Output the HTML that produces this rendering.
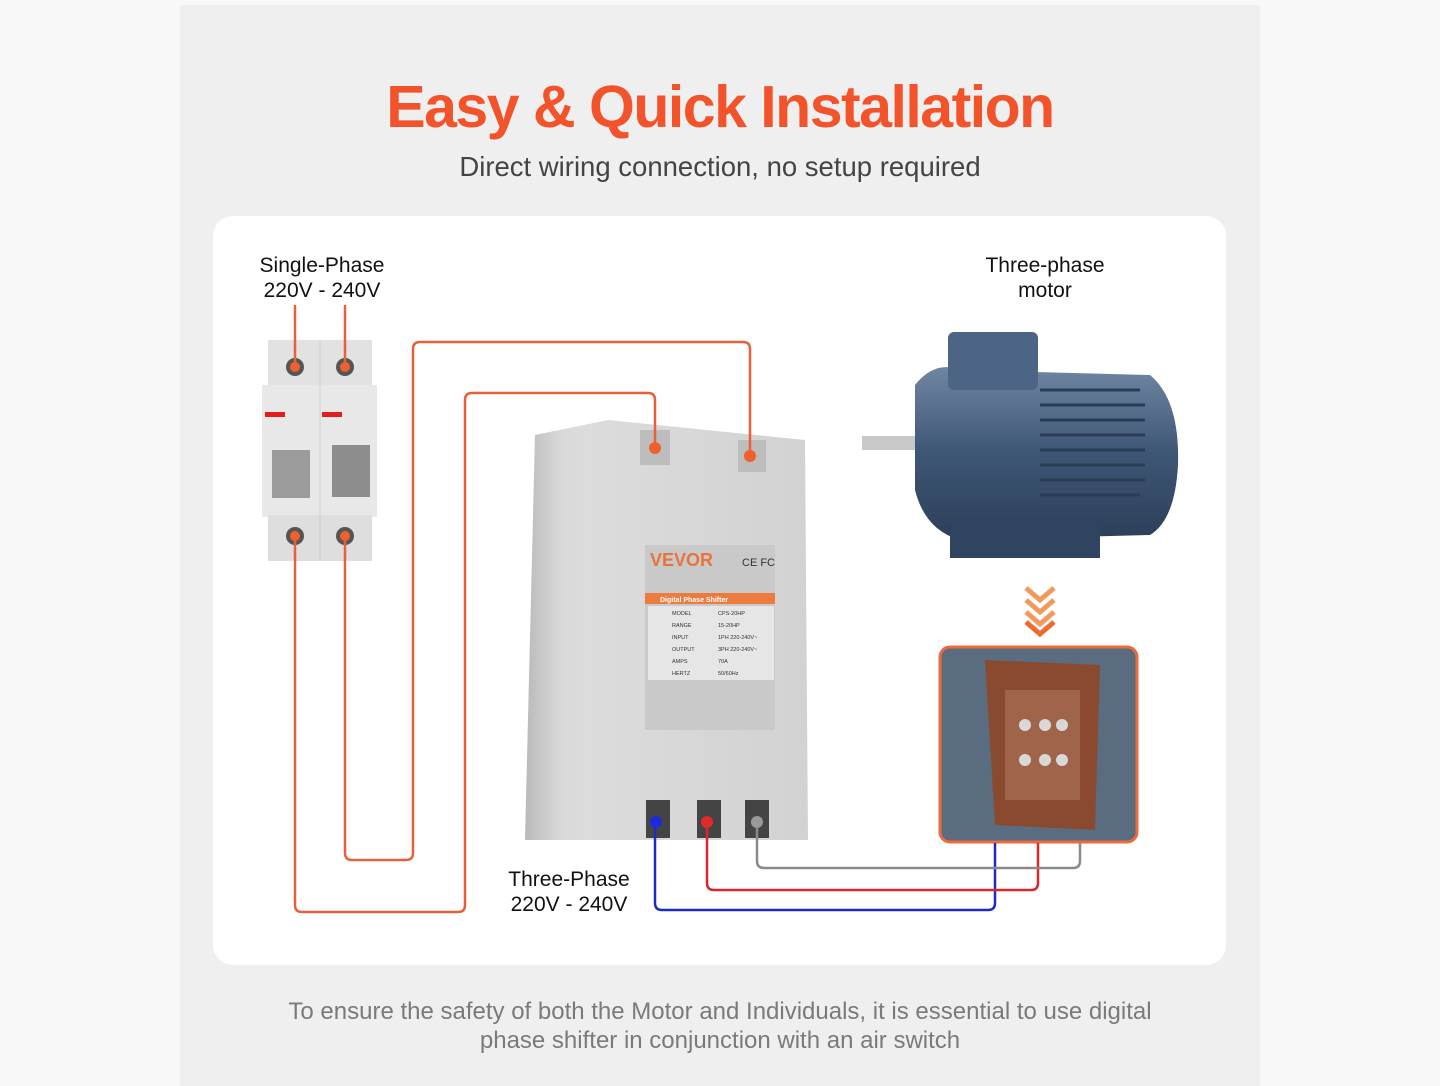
<!DOCTYPE html>
<html><head><meta charset="utf-8"><style>
html,body{margin:0;padding:0;width:1440px;height:1086px;overflow:hidden;background:#fafafa;font-family:"Liberation Sans",sans-serif}
</style></head><body>
<svg width="1440" height="1086" viewBox="0 0 1440 1086" xmlns="http://www.w3.org/2000/svg" font-family="Liberation Sans, sans-serif">
<defs>
<linearGradient id="box" x1="0" x2="1"><stop offset="0" stop-color="#b9b9b9"/><stop offset="0.12" stop-color="#d8d8d8"/><stop offset="0.2" stop-color="#dcdcdc"/><stop offset="1" stop-color="#d2d2d2"/></linearGradient>
<linearGradient id="mot" x1="0" y1="0" x2="0" y2="1"><stop offset="0" stop-color="#6f86a3"/><stop offset="0.5" stop-color="#3e5675"/><stop offset="1" stop-color="#2c3f58"/></linearGradient>
</defs>
<rect width="1440" height="1086" fill="#f8f8f8"/>
<rect x="180" y="5" width="1080" height="1081" fill="#efefef"/>
<text x="720" y="127" text-anchor="middle" font-size="59" font-weight="bold" fill="#f2532a" letter-spacing="-1.5">Easy &amp; Quick Installation</text>
<text x="720" y="176" text-anchor="middle" font-size="27.5" fill="#444">Direct wiring connection, no setup required</text>
<rect x="213" y="216" width="1013" height="749" rx="20" fill="#fff"/>
<text x="322" y="272" text-anchor="middle" font-size="21" fill="#111">Single-Phase</text>
<text x="322" y="297" text-anchor="middle" font-size="21" fill="#111">220V - 240V</text>
<text x="1045" y="272" text-anchor="middle" font-size="21" fill="#111">Three-phase</text>
<text x="1045" y="297" text-anchor="middle" font-size="21" fill="#111">motor</text>
<text x="569" y="886" text-anchor="middle" font-size="21" fill="#111">Three-Phase</text>
<text x="569" y="911" text-anchor="middle" font-size="21" fill="#111">220V - 240V</text>
<rect x="268" y="340" width="104" height="48" fill="#e2e2e2"/>
<rect x="262" y="385" width="115" height="132" fill="#e8e8e8"/>
<rect x="268" y="515" width="104" height="46" fill="#dedede"/>
<line x1="320" y1="340" x2="320" y2="561" stroke="#cfcfcf"/>
<rect x="265" y="412" width="20" height="5" fill="#e02020"/><rect x="322" y="412" width="20" height="5" fill="#e02020"/>
<rect x="272" y="450" width="38" height="48" fill="#9b9b9b"/><rect x="332" y="445" width="38" height="52" fill="#8d8d8d"/>
<circle cx="295" cy="367" r="9" fill="#555"/><circle cx="345" cy="367" r="9" fill="#555"/>
<circle cx="295" cy="536" r="9" fill="#555"/><circle cx="345" cy="536" r="9" fill="#555"/>
<path d="M535 435 L608 420 L805 440 L808 840 L525 840 Z" fill="url(#box)"/>
<rect x="640" y="430" width="30" height="35" fill="#bdbdbd"/><rect x="738" y="440" width="28" height="32" fill="#bdbdbd"/>
<rect x="645" y="545" width="130" height="185" fill="#c9c9c9"/>
<text x="650" y="566" font-size="18" font-weight="bold" fill="#e7743f">VEVOR</text>
<text x="742" y="566" font-size="11" fill="#333">CE FC</text>
<rect x="645" y="593" width="130" height="11" fill="#ee7b3e"/>
<text x="660" y="602" font-size="7" fill="#fff" font-weight="bold">Digital Phase Shifter</text>
<rect x="648" y="606" width="126" height="74" fill="#e6e6e6"/>
<g font-size="5.5" fill="#333"><text x="672" y="615">MODEL</text><text x="718" y="615">CPS-20HP</text><text x="672" y="627">RANGE</text><text x="718" y="627">15-20HP</text><text x="672" y="639">INPUT</text><text x="718" y="639">1PH 220-240V~</text><text x="672" y="651">OUTPUT</text><text x="718" y="651">3PH 220-240V~</text><text x="672" y="663">AMPS</text><text x="718" y="663">70A</text><text x="672" y="675">HERTZ</text><text x="718" y="675">50/60Hz</text></g>
<rect x="646" y="800" width="24" height="38" fill="#444"/><rect x="697" y="800" width="24" height="38" fill="#444"/><rect x="745" y="800" width="24" height="38" fill="#444"/>
<rect x="862" y="436" width="56" height="14" fill="#c8c8c8"/>
<path d="M915 385 Q935 360 960 370 L1150 375 Q1180 400 1178 465 Q1175 520 1150 535 L960 540 Q925 530 915 490 Z" fill="url(#mot)"/>
<rect x="948" y="332" width="90" height="58" rx="6" fill="#4d6584"/>
<rect x="950" y="520" width="150" height="38" fill="#2f4460"/>
<g stroke="#2a3d55" stroke-width="3">
<line x1="1040" y1="390" x2="1140" y2="390"/><line x1="1040" y1="405" x2="1145" y2="405"/><line x1="1040" y1="420" x2="1145" y2="420"/><line x1="1040" y1="435" x2="1145" y2="435"/><line x1="1040" y1="450" x2="1145" y2="450"/><line x1="1040" y1="465" x2="1145" y2="465"/><line x1="1040" y1="480" x2="1145" y2="480"/><line x1="1040" y1="495" x2="1140" y2="495"/></g>
<g fill="none" stroke="#f29a5e" stroke-width="5"><path d="M1026 588 L1040 600 L1054 588"/><path d="M1026 600 L1040 612 L1054 600"/><path d="M1026 612 L1040 624 L1054 612"/><path d="M1026 622 L1040 634 L1054 622" stroke="#ee6a2e"/></g>
<rect x="940" y="647" width="197" height="195" rx="10" fill="#5a6d80" stroke="#ee6a3a" stroke-width="3"/>
<path d="M985 660 L1100 665 L1095 830 L995 825 Z" fill="#8a4a30"/>
<rect x="1005" y="690" width="75" height="110" fill="#a0644a"/>
<g fill="#d8d8d8"><circle cx="1025" cy="725" r="6"/><circle cx="1045" cy="725" r="6"/><circle cx="1062" cy="725" r="6"/><circle cx="1025" cy="760" r="6"/><circle cx="1045" cy="760" r="6"/><circle cx="1062" cy="760" r="6"/></g>
<g fill="none" stroke-width="2.5" stroke-linejoin="round">
<g stroke="#e8603a">
<path d="M295 305 V367"/><path d="M345 305 V367"/>
<path d="M295 536 V905 Q295 912 302 912 H458 Q465 912 465 905 V400 Q465 393 472 393 H648 Q655 393 655 400 V450"/>
<path d="M345 536 V853 Q345 860 352 860 H406 Q413 860 413 853 V349 Q413 342 420 342 H743 Q750 342 750 349 V455"/>
</g>
<path d="M655 820 V903 Q655 910 662 910 H988 Q995 910 995 903 V843" stroke="#1d2bbf"/>
<path d="M707 820 V883 Q707 890 714 890 H1031 Q1038 890 1038 883 V843" stroke="#d8262a"/>
<path d="M757 820 V861 Q757 868 764 868 H1073 Q1080 868 1080 861 V843" stroke="#8a8a8a"/>
</g>
<g fill="#f0602e"><circle cx="295" cy="367" r="5"/><circle cx="345" cy="367" r="5"/><circle cx="295" cy="536" r="5"/><circle cx="345" cy="536" r="5"/><circle cx="655" cy="448" r="6"/><circle cx="750" cy="456" r="6"/></g>
<circle cx="656" cy="822" r="6" fill="#1d2bdf"/><circle cx="707" cy="822" r="6" fill="#e02a2a"/><circle cx="757" cy="822" r="6" fill="#999"/>
<text x="720" y="1019" text-anchor="middle" font-size="24" fill="#7a7a7a">To ensure the safety of both the Motor and Individuals, it is essential to use digital</text>
<text x="720" y="1048" text-anchor="middle" font-size="24" fill="#7a7a7a">phase shifter in conjunction with an air switch</text>
</svg>
</body></html>
